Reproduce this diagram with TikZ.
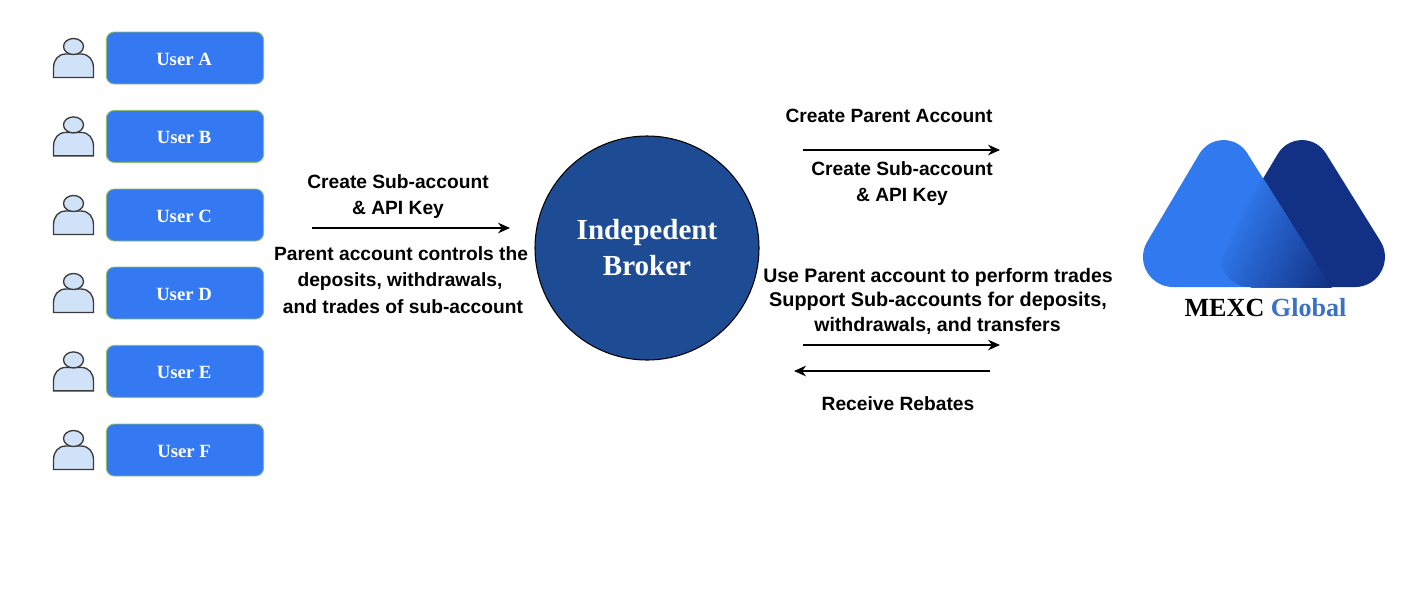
\documentclass[tikz,border=0pt]{standalone}
\usepackage{fontspec}
\setmainfont{Liberation Serif}
\newfontfamily\lsans{Liberation Sans}
\usetikzlibrary{arrows.meta}
\definecolor{ublue}{HTML}{3579F2}
\definecolor{uedge}{HTML}{8FBF6F}
\definecolor{pfill}{HTML}{D0E2F8}
\definecolor{pedge}{HTML}{3A3A3A}
\definecolor{circ}{HTML}{1E4C94}
\definecolor{logoL}{HTML}{3079EE}
\definecolor{logoD}{HTML}{123184}
\definecolor{glob}{HTML}{3A70C8}
\newcommand{\lefttri}{(1199.5,153.6) arc[start angle=211,end angle=329,radius=28] -- (1331,287) -- (1173,287) arc[start angle=90,end angle=211,radius=30] -- cycle}
\newcommand{\darktri}{(1278,153.6) arc[start angle=211,end angle=329,radius=28] -- (1380.7,241.6) arc[start angle=329,end angle=450,radius=30] -- (1251,287) arc[start angle=90,end angle=211,radius=30] -- cycle}
\tikzset{
  x=0.75pt,y=-0.75pt,
  userbox/.style={draw=uedge,fill=ublue,line width=0.7pt,rounded corners=6pt,minimum width=118pt,minimum height=39pt,inner sep=0pt,text=white,font=\bfseries\fontsize{14}{16}\selectfont},
  persona/.style={draw=pedge,fill=pfill,line width=1pt},
  lbl/.style={font=\lsans\bfseries\fontsize{14.4}{16}\selectfont,text=black,inner sep=0pt,anchor=center},
  flow/.style={draw=black,line width=0.9pt,-{Stealth[length=9pt,width=8pt]}},
  hub/.style={circle,draw=black,fill=circ,line width=0.8pt,minimum size=168pt,inner sep=0pt},
  hubtxt/.style={text=white,inner sep=0pt,font=\bfseries\fontsize{21.8}{24}\selectfont},
}
\begin{document}
\begin{tikzpicture}
\useasboundingbox (0,0) rectangle (1402,594);
% users
\foreach \n/\t/\y in {a/User A/58, b/User B/136.4, c/User C/215, d/User D/293, e/User E/371.4, f/User F/450}{
  \node[userbox] (user\n) at (185,\y) {\rule{0pt}{10.8pt}\t\kern1.5pt};
  \begin{scope}[shift={(0,\y-58)}]
    \path[persona] (53.5,77.5) -- (53.5,68) .. controls (53.5,60) and (58,54) .. (66,54) -- (81,54) .. controls (89,54) and (93.5,60) .. (93.5,68) -- (93.5,77.5) -- cycle;
    \path[persona] (73.5,46.5) ellipse [x radius=10,y radius=8];
  \end{scope}
}
% hub
\node[hub] (hub) at (647,248) {};
\node[hubtxt] (hubA) at (647,233) {Indepedent};
\node[hubtxt] (hubB) at (647,266) {Broker};
% connector ends
\coordinate (a1) at (312,228); \coordinate (a2) at (510,228);
\coordinate (b1) at (803,150); \coordinate (b2) at (1000,150);
\coordinate (c1) at (803,345); \coordinate (c2) at (1000,345);
\coordinate (d1) at (990,371); \coordinate (d2) at (794,371);
\draw[flow] (a1) -- (a2);
\draw[flow] (b1) -- (b2);
\draw[flow] (c1) -- (c2);
\draw[flow] (d1) -- (d2);
% labels
\node[lbl] (t1) at (398,181.5) {Create Sub-account};
\node[lbl] (t2) at (398,210) {\& API Key};
\node[lbl] (t3) at (401,254) {Parent account controls the};
\node[lbl] (t4) at (400,281.5) {deposits, withdrawals,};
\node[lbl] (t5) at (403,307) {and trades of sub-account};
\node[lbl] (t6) at (889,116) {Create Parent Account};
\node[lbl] (t7) at (902,169) {Create Sub-account};
\node[lbl] (t8) at (902,197) {\& API Key};
\node[lbl,font=\lsans\bfseries\fontsize{14.65}{16}\selectfont] (t9) at (938,277.5) {Use Parent account to perform trades};
\node[lbl,font=\lsans\bfseries\fontsize{14.9}{16}\selectfont] (t10) at (938,301) {Support Sub-accounts for deposits,};
\node[lbl,font=\lsans\bfseries\fontsize{14.65}{16}\selectfont] (t11) at (937.5,325.5) {withdrawals, and transfers};
\node[lbl] (t12) at (898,404) {Receive Rebates};
% logo
\fill[logoD] \darktri;
\fill[logoL] \lefttri;
\begin{scope}
  \clip \darktri;
  \clip \lefttri;
  \foreach \i in {0,...,54}{
    \pgfmathsetmacro{\s}{1212+2*\i}
    \pgfmathsetmacro{\m}{min(100,6+94*\i/54)}
    \fill[logoD!\m!logoL]
      ({0.9*\s-0.436*800},{0.436*\s+0.9*800}) --
      ({0.9*\s+0.436*800},{0.436*\s-0.9*800}) --
      ({0.9*1500+0.436*800},{0.436*1500-0.9*800}) --
      ({0.9*1500-0.436*800},{0.436*1500+0.9*800}) -- cycle;
  }
\end{scope}
\draw[logoD,line width=0.7pt] (1315,260) -- (1331,287) -- (1300,287);
\node[inner sep=0pt,font=\bfseries\fontsize{19.6}{22}\selectfont] (logotxt) at (1265.5,308) {MEXC \textcolor{glob}{Global}};
\end{tikzpicture}
\end{document}
